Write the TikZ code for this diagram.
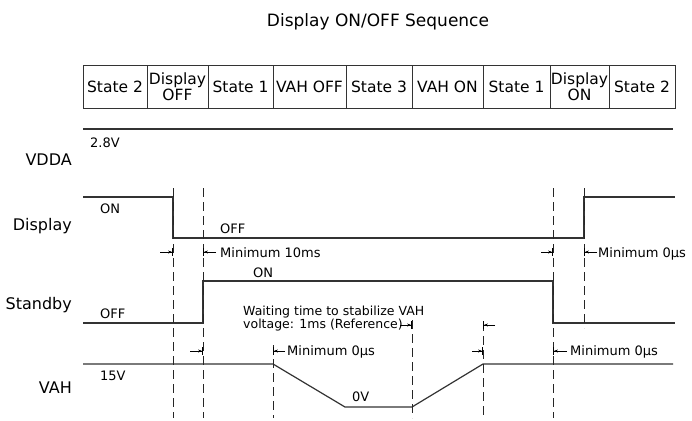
\documentclass[tikz,border=0pt]{standalone}
\usepackage{fontspec}
\setmainfont{DejaVu Sans}
\usetikzlibrary{arrows.meta}
\tikzset{
  cell/.style={draw=black!80,line width=1pt,minimum height=43pt,inner sep=0pt,
    align=center,font=\fontsize{15.5}{13}\selectfont},
  siglabel/.style={anchor=base east,inner sep=0pt,font=\fontsize{16}{18}\selectfont},
  levellabel/.style={anchor=base west,inner sep=0pt,font=\fontsize{13}{12}\selectfont},
  signal/.style={line width=1.2pt,draw=black!80},
  timeline/.style={dash pattern=on 9pt off 5pt,line width=0.8pt,draw=black!85},
  gap/.style={-{Stealth[length=4pt,width=3pt]Bar[width=8pt,line width=0.9pt]},line width=0.6pt}
}

\begin{document}
\begin{tikzpicture}[x=1pt,y=-1pt]
  \useasboundingbox (0,0) rectangle (692,420);
  \node[anchor=base,font=\fontsize{17}{20}\selectfont] (title) at (378,27) {Display ON/OFF Sequence};

  % state table
  \foreach \l/\r/\txt/\nm in {83/147/{State 2}/c1, 147/208/{Display\\OFF}/c2,
      208/273/{State 1}/c3, 273/346/{VAH OFF}/c4, 346/412/{State 3}/c5,
      412/483/{VAH ON}/c6, 483/550/{State 1}/c7, 550/609/{Display\\ON}/c8,
      609/675/{State 2}/c9}
    \node[cell,minimum width=(\r-\l)*1pt] (\nm) at ({(\l+\r)/2},86.5) {\txt};

  % signal names
  \node[siglabel] (vdda) at (72,165) {VDDA};
  \node[siglabel] (disp) at (72,230) {Display};
  \node[siglabel] (stby) at (72,309) {Standby};
  \node[siglabel] (vah) at (72,393) {VAH};

  % waveforms
  \draw[signal] (83,129) -- (673,129);
  \draw[signal] (83,197) -- (173,197) -- (173,238) -- (584,238) -- (584,197) -- (675,197);
  \draw[signal] (83,323) -- (203,323) -- (203,281) -- (553,281) -- (553,323) -- (675,323);
  \draw[signal] (83,364) -- (273,364) -- (345,407) -- (412,407) -- (483,364) -- (673,364);

  % event lines
  \foreach \x/\ya/\yb in {173/188/418, 203/188/418, 273/345/418, 412/320/418,
      483/322/418, 553/188/418, 584/188/328}
    \draw[timeline] (\x,\ya) -- (\x,\yb);

  % levels
  \node[levellabel] (vddalvl) at (90,147) {2.8V};
  \node[levellabel] (dispon) at (100,213) {ON};
  \node[levellabel] (dispoff) at (220,233) {OFF};
  \node[levellabel] (stbyon) at (253,277) {ON};
  \node[levellabel] (stbyoff) at (100,318) {OFF};
  \node[levellabel] (vahhi) at (100,380) {15V};
  \node[levellabel] (vahlo) at (352,401) {0V};

  % minimum times
  \draw[gap] (160,252) -- (173,252);
  \draw[gap] (216,252) -- (203,252);
  \node[levellabel] (min1) at (220,257) {Minimum 10ms};
  \draw[gap] (541,252) -- (553,252);
  \draw[gap] (597,252) -- (584,252);
  \node[levellabel] (min2) at (598,257) {Minimum 0µs};

  \node[levellabel,font=\fontsize{12.5}{12}\selectfont,anchor=north west,align=left] (wait) at (243,306)
    {Waiting time to stabilize VAH\\voltage: 1ms (Reference)};
  \draw[gap] (400,325) -- (412,325);
  \draw[gap] (495,325) -- (483,325);

  \draw[gap] (190,351) -- (203,351);
  \draw[gap] (285,351) -- (273,351);
  \node[levellabel] (min3) at (287,355) {Minimum 0µs};
  \draw[gap] (472,351) -- (483,351);
  \draw[gap] (567,351) -- (553,351);
  \node[levellabel] (min4) at (570,355) {Minimum 0µs};
\end{tikzpicture}
\end{document}
